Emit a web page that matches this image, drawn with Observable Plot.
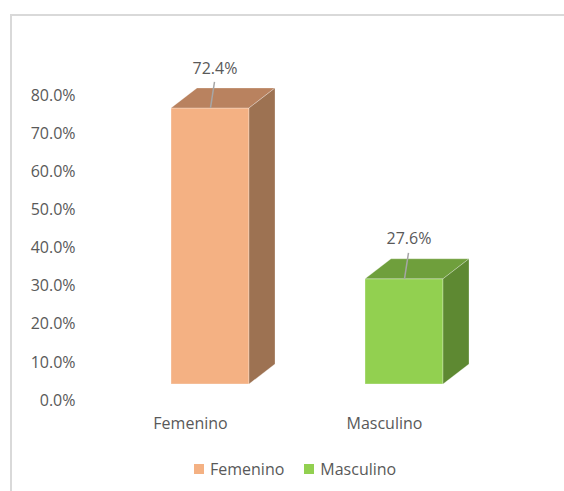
<!DOCTYPE html>
<html>
<head>
<meta charset="utf-8">
<script src="https://cdn.jsdelivr.net/npm/d3@7"></script>
<script src="https://cdn.jsdelivr.net/npm/@observablehq/plot@0.6"></script>
<style>
  body { margin: 0; background: #fff; font-family: "Open Sans", sans-serif; }
  #wrap { position: relative; width: 564px; height: 491px; overflow: hidden; background: #fff; }
  #frame { position: absolute; left: 10px; top: 14px; width: 700px; height: 700px;
           border: 2px solid #d9d9d9; box-sizing: border-box; pointer-events: none; }
  #legend { position: absolute; left: 194px; top: 458px; height: 22px; display: flex;
            align-items: center; font-size: 16px; color: #595959; }
  .item { display: flex; align-items: center; margin-right: 20px; }
  .sw { width: 10px; height: 10px; margin-right: 6px; }
</style>
</head>
<body>
<div id="wrap">
  <div id="chart"></div>
  <div id="legend"></div>
  <div id="frame"></div>
</div>
<script>
// ---- data ----
const categories = ["Femenino", "Masculino"];
const values = [72.4, 27.6];
const yTicks = [0, 10, 20, 30, 40, 50, 60, 70, 80];
const valueLabels = ["72.4%", "27.6%"];

// ---- styles ----
const frontColors = ["#F4B183", "#92D050"];
const topColors = ["#B9825F", "#6F9F3C"];
const sideColors = ["#9D7252", "#5E8932"];
const textColor = "#595959";
const OFF = -16;   // front face offset from axis baseline
const DX = 26, DY = 20; // 3D depth

const data = categories.map((c, i) => ({cat: c, value: values[i], label: valueLabels[i]}));

function depthFaces(index, scales) {
  const {x, y} = scales;
  const bw = x.bandwidth();
  const g = d3.create("svg:g");
  data.forEach((d, i) => {
    const x0 = x(d.cat), x1 = x0 + bw;
    const yb = y(0) + OFF, yt = y(d.value) + OFF;
    g.append("path")
      .attr("d", `M${x0},${yt}L${x0 + DX},${yt - DY}L${x1 + DX},${yt - DY}L${x1},${yt}Z`)
      .attr("fill", topColors[i]).attr("stroke", "rgba(255,255,255,0.35)").attr("stroke-width", 0.8);
    g.append("path")
      .attr("d", `M${x1},${yt}L${x1 + DX},${yt - DY}L${x1 + DX},${yb - DY}L${x1},${yb}Z`)
      .attr("fill", sideColors[i]).attr("stroke", "rgba(255,255,255,0.35)").attr("stroke-width", 0.8);
    const cx = x0 + bw / 2;
    g.append("line")
      .attr("x1", cx + 0.5).attr("y1", yt)
      .attr("x2", cx + 4.5).attr("y2", yt - 26)
      .attr("stroke", "#a6a6a6").attr("stroke-width", 1.5);
  });
  return g.node();
}

const plot = Plot.plot({
  width: 564,
  height: 445,
  marginTop: 95,
  marginBottom: 45,
  marginLeft: 78,
  marginRight: 0,
  style: {fontFamily: "Open Sans, sans-serif", fontSize: "16px", color: textColor, background: "transparent"},
  x: {domain: categories, range: [113, 501], paddingInner: 0.6, paddingOuter: 0.3, axis: null},
  y: {domain: [0, 80], ticks: yTicks},
  color: {domain: categories, range: frontColors},
  marks: [
    Plot.axisY({ticks: yTicks, tickSize: 0, tickPadding: 3, tickFormat: d => d.toFixed(1) + "%", label: null, fill: textColor}),
    Plot.barY(data, {x: "cat", y: "value", fill: "cat", dy: OFF, stroke: "rgba(255,255,255,0.4)", strokeWidth: 0.8}),
    depthFaces,
    Plot.text(data, {x: "cat", y: "value", text: "label", dy: OFF - 40, dx: 4.5, fill: textColor, fontSize: 16}),
    Plot.text(data, {x: "cat", text: "cat", frameAnchor: "bottom", lineAnchor: "middle", dy: 23, dx: -20, fill: textColor, fontSize: 16})
  ]
});
document.getElementById("chart").appendChild(plot);

const legend = d3.select("#legend");
categories.forEach((c, i) => {
  const it = legend.append("div").attr("class", "item");
  it.append("div").attr("class", "sw").style("background", frontColors[i]);
  it.append("span").text(c);
});
</script>
</body>
</html>
